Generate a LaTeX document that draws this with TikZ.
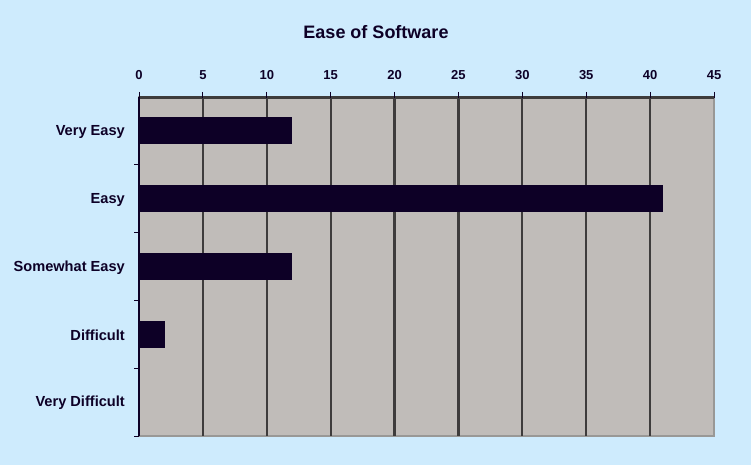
\documentclass[tikz,border=0pt]{standalone}
\usepackage{fontspec}
\setmainfont{Liberation Sans}
\definecolor{chartbg}{RGB}{206,235,253}
\definecolor{plotbg}{RGB}{192,188,185}
\definecolor{barfill}{RGB}{13,0,38}
\definecolor{gridgray}{RGB}{62,60,60}
\tikzset{
  ticklabel/.style={font=\bfseries\fontsize{13}{13}\selectfont,text=barfill,inner sep=0pt},
  catlabel/.style={font=\bfseries\fontsize{14.6}{14.6}\selectfont,text=barfill,inner sep=0pt,anchor=east},
}
\begin{document}
\begin{tikzpicture}[x=1pt,y=-1pt]
\useasboundingbox (0,0) rectangle (751,465);
% background:
\path[fill=chartbg] (0,0) rectangle (751,465);
% plot area:
\path[fill=plotbg,draw=gray!60!plotbg,line width=1.2pt] (139,97) rectangle (714,436);
% grid lines:
\foreach \v in {5,10,...,40}
  \path[draw=gridgray,line width=2.2pt] ({139+\v*12.778},97) -- ({139+\v*12.778},436);
% bars:
\foreach \i/\v in {0/12,1/41,2/12,3/2,4/0}
  \path[fill=barfill] (139,{97+(\i+0.5)*67.8-13.5}) rectangle ({139+\v*12.778},{97+(\i+0.5)*67.8+13.5});
% value axis on top:
\path[draw=gridgray,line width=3pt] (139,97.5) -- (714,97.5);
\foreach \v in {0,5,...,45} {
  \path[draw=barfill,line width=1pt] ({139+\v*12.778},92) -- ({139+\v*12.778},98);
  \node[ticklabel] (t\v) at ({139+\v*12.778},75) {\v};
}
% category axis:
\path[draw=barfill,line width=1.2pt] (139,97) -- (139,436);
\foreach \i in {1,...,5}
  \path[draw=barfill,line width=1pt] (134,{97+\i*67.8}) -- (139,{97+\i*67.8});
\foreach \i/\c in {0/Very Easy,1/Easy,2/Somewhat Easy,3/Difficult,4/Very Difficult}
  \node[catlabel] (c\i) at (125,{97+(\i+0.5)*67.8+1}) {\c};
% title:
\node[font=\bfseries\fontsize{18}{18}\selectfont,text=barfill,inner sep=0pt] (title) at (376,32) {Ease of Software};
\end{tikzpicture}
\end{document}
